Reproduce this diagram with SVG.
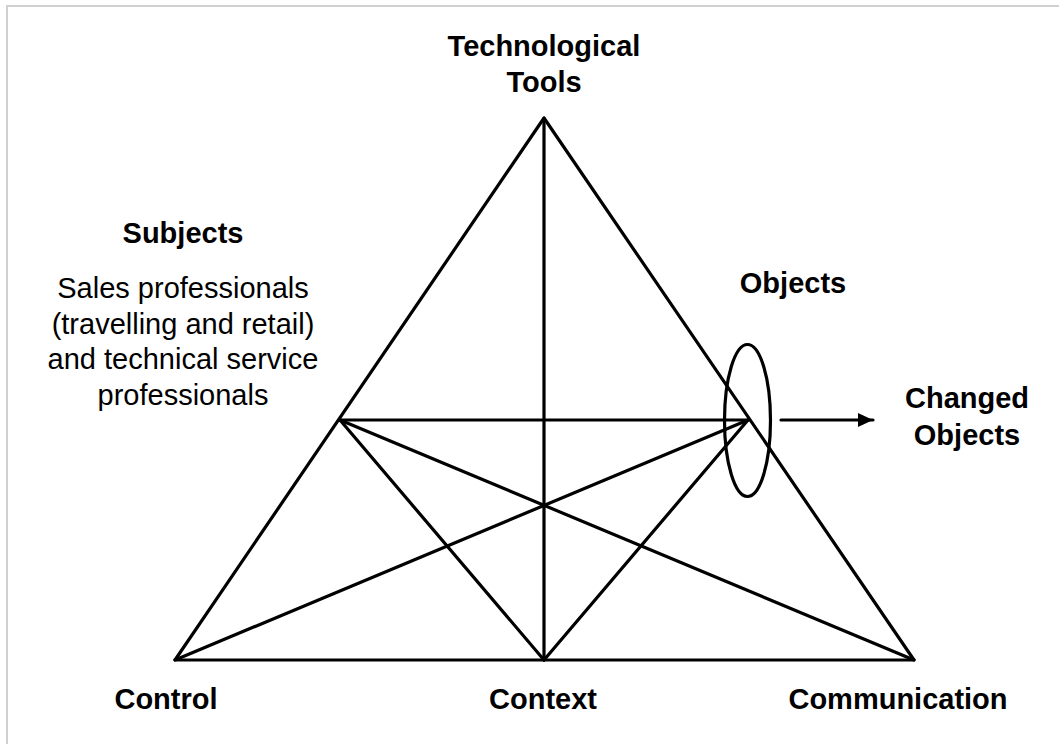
<svg xmlns="http://www.w3.org/2000/svg" width="1059" height="744" viewBox="0 0 1059 744">
<style>
.ln{stroke:#000;stroke-width:3.2;fill:none;stroke-linecap:round;stroke-linejoin:round}
.b{font-family:"Liberation Sans",Arial,sans-serif;font-weight:bold;font-size:29px;fill:#000;text-anchor:middle}
.r{font-family:"Liberation Sans",Arial,sans-serif;font-size:29px;fill:#000;text-anchor:middle}
</style>
<defs>
<marker id="ah" markerWidth="16" markerHeight="16" refX="15" refY="8" orient="auto" markerUnits="userSpaceOnUse">
<path d="M0,1 L15,8 L0,15 Z" fill="#000"/>
</marker>
</defs>
<rect x="0" y="0" width="1059" height="744" fill="#fff"/>
<rect x="7" y="6" width="1070" height="760" fill="none" stroke="#d0d0d0" stroke-width="2"/>
<g id="connectors">
<polygon class="ln" points="544,118 175,660 914,660"/>
<line class="ln" x1="544" y1="118" x2="544" y2="660"/>
<line class="ln" x1="340" y1="420" x2="748" y2="420"/>
<line class="ln" x1="340" y1="420" x2="914" y2="660"/>
<line class="ln" x1="748" y1="420" x2="175" y2="660"/>
<line class="ln" x1="340" y1="420" x2="544" y2="660"/>
<line class="ln" x1="748" y1="420" x2="544" y2="660"/>
<line class="ln" x1="781" y1="420" x2="873" y2="420" stroke-width="3.6" stroke-linecap="butt" marker-end="url(#ah)"/>
</g>
<g id="objects-ellipse">
<ellipse class="ln" cx="747.5" cy="420.5" rx="23" ry="76"/>
</g>
<g id="technological-tools">
<text class="b" x="544" y="56">Technological</text>
<text class="b" x="544" y="92">Tools</text>
</g>
<g id="subjects">
<text class="b" x="183" y="243">Subjects</text>
<text class="r" x="183" y="298">Sales professionals</text>
<text class="r" x="183" y="334">(travelling and retail)</text>
<text class="r" x="183" y="369">and technical service</text>
<text class="r" x="183" y="405">professionals</text>
</g>
<g id="objects">
<text class="b" x="793" y="293">Objects</text>
</g>
<g id="changed-objects">
<text class="b" x="967" y="408">Changed</text>
<text class="b" x="967" y="445">Objects</text>
</g>
<g id="control">
<text class="b" x="166" y="709">Control</text>
</g>
<g id="context">
<text class="b" x="543" y="709">Context</text>
</g>
<g id="communication">
<text class="b" x="898" y="709">Communication</text>
</g>
</svg>
